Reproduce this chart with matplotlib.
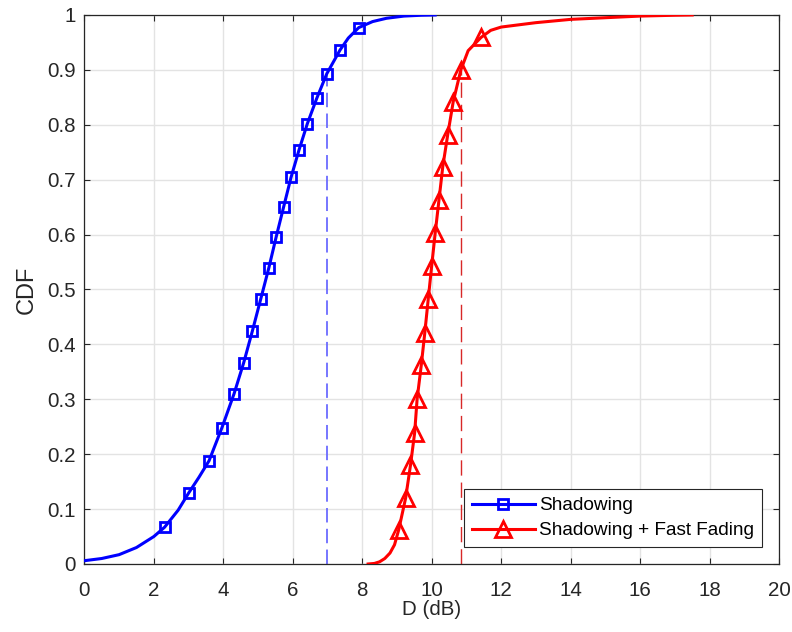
"""CDF of D (dB): shadowing only vs. shadowing + fast fading"""
import matplotlib
matplotlib.use('Agg')
import matplotlib.pyplot as plt

plt.rcParams['font.family'] = ['Liberation Sans', 'DejaVu Sans']

# Empirical CDF, shadowing only
SH_X = [0.0, 0.5, 1.0, 1.5, 2.0, 2.31, 2.7, 3.01, 3.3, 3.59, 3.96, 4.31, 4.59,
        4.84, 5.08, 5.31, 5.52, 5.74, 5.95, 6.18, 6.42, 6.69, 6.98, 7.36, 7.6,
        7.9, 8.3, 8.7, 9.2, 9.7, 10.1]
SH_Y = [0.006, 0.010, 0.017, 0.030, 0.050, 0.067, 0.098, 0.130, 0.158, 0.188,
        0.248, 0.310, 0.367, 0.425, 0.483, 0.539, 0.595, 0.651, 0.704, 0.754,
        0.802, 0.848, 0.893, 0.936, 0.958, 0.977, 0.988, 0.994, 0.998, 0.9995, 1.0]
SH_MARKS = [5, 7] + list(range(9, 24)) + [25]

# Empirical CDF, shadowing + fast fading
FF_X = [8.17, 8.35, 8.5, 8.65, 8.8, 8.93, 9.05, 9.25, 9.39, 9.51, 9.58, 9.70,
        9.80, 9.90, 10.0, 10.1, 10.21, 10.32, 10.46, 10.62, 10.84, 11.05, 11.42,
        11.7, 12.0, 13.0, 14.0, 15.0, 16.0, 17.0, 17.5]
FF_Y = [0.0, 0.001, 0.004, 0.010, 0.020, 0.035, 0.062, 0.120, 0.180, 0.239,
        0.300, 0.362, 0.420, 0.482, 0.543, 0.602, 0.663, 0.724, 0.781, 0.842,
        0.900, 0.935, 0.959, 0.972, 0.978, 0.986, 0.992, 0.995, 0.998, 0.9995, 1.0]
FF_MARKS = list(range(6, 21)) + [22]

# 90th-percentile reference lines
P90_X = [7.0, 10.84]
P90_Y = [0.893, 0.900]

fig = plt.figure(figsize=(7.92, 6.32), dpi=100)
ax = fig.add_axes([0.1065, 0.1076, 0.8771, 0.8687])

ax.plot(SH_X, SH_Y, color='#0000ff', lw=2.2, marker='s', ms=7, mew=2,
        mfc='none', markevery=SH_MARKS, label='Shadowing', zorder=3)
ax.plot(FF_X, FF_Y, color='#ff0000', lw=2.2, marker='^', ms=12, mew=2,
        mfc='none', markevery=FF_MARKS, label='Shadowing + Fast Fading', zorder=3)

ax.plot([P90_X[0], P90_X[0]], [0, P90_Y[0]], color='#6b6bff', lw=1.3,
        dashes=(8, 3.5), zorder=2)
ax.plot([P90_X[1], P90_X[1]], [0, P90_Y[1]], color='#d82828', lw=1.0,
        dashes=(11, 5), zorder=2)

ax.set_xlim(0, 20)
ax.set_ylim(0, 1)
ax.set_xticks(range(0, 21, 2))
ax.set_yticks([i / 10 for i in range(11)])
ax.set_yticklabels(['0'] + [f'{i / 10:g}' for i in range(1, 10)] + ['1'])
ax.grid(True, color='#e3e3e3', lw=1)
ax.set_axisbelow(True)

ax.tick_params(direction='in', length=4.5, width=0.8, colors='#262626',
               labelsize=14.8, top=True, right=True)
ax.tick_params(axis='x', pad=12.5)
ax.tick_params(axis='y', pad=6)
for s in ax.spines.values():
    s.set_color('#262626')
    s.set_linewidth(0.9)

ax.set_xlabel('D (dB)', fontsize=14.8, color='#262626', labelpad=0)
ax.set_ylabel('CDF', fontsize=17, color='#262626', labelpad=7)

leg = ax.legend(loc='lower right', fontsize=13.7, handlelength=3.3,
                borderaxespad=0.9, labelspacing=0.4, borderpad=0.4,
                handletextpad=0.25, fancybox=False, framealpha=1)
leg.get_frame().set_edgecolor('#262626')
leg.get_frame().set_linewidth(0.8)

fig.savefig('out.png', dpi=100)
